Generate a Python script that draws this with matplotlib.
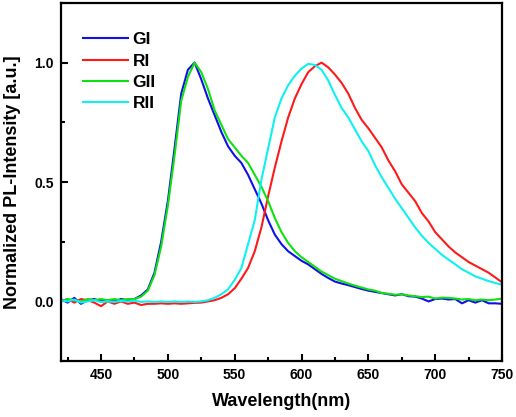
import numpy as np
import matplotlib
matplotlib.use('Agg')
from matplotlib import pyplot as plt
from matplotlib.ticker import MultipleLocator

plt.rcParams['font.family'] = 'Liberation Sans'
plt.rcParams['font.weight'] = 'bold'

# wavelength grid (nm)
wl = np.arange(420, 751, 5)

gi = [0.01, -0.005, 0.015, -0.01, 0.005, 0.01, 0.0, 0.005, 0.0, 0.01, 0.005, 0.01,
      0.025, 0.05, 0.12, 0.25, 0.42, 0.64, 0.87, 0.97, 1.0, 0.93, 0.85, 0.78,
      0.71, 0.65, 0.61, 0.58, 0.53, 0.47, 0.41, 0.34, 0.28, 0.24, 0.21, 0.19,
      0.17, 0.155, 0.135, 0.115, 0.098, 0.083, 0.075, 0.068, 0.06, 0.052, 0.045,
      0.04, 0.035, 0.03, 0.025, 0.03, 0.022, 0.02, 0.012, 0.0, 0.01, 0.012,
      0.008, 0.01, -0.008, 0.005, -0.005, 0.005, -0.008, -0.008, -0.01]

ri = [0.0, 0.01, -0.005, 0.01, 0.005, -0.005, -0.02, 0.0, -0.01, 0.0, -0.01,
      -0.005, -0.015, -0.01, -0.01, -0.008, -0.01, -0.008, -0.01, -0.008, -0.006,
      -0.005, 0.0, 0.005, 0.015, 0.03, 0.055, 0.095, 0.14, 0.21, 0.31, 0.44,
      0.56, 0.67, 0.77, 0.85, 0.91, 0.96, 0.985, 1.0, 0.98, 0.95, 0.915, 0.87,
      0.81, 0.76, 0.725, 0.685, 0.645, 0.59, 0.545, 0.49, 0.455, 0.42, 0.37,
      0.335, 0.29, 0.26, 0.23, 0.205, 0.185, 0.165, 0.15, 0.135, 0.12, 0.1, 0.08]

gii = [0.0, 0.01, 0.005, 0.0, 0.01, 0.005, 0.01, 0.005, 0.01, 0.005, 0.01, 0.01,
       0.02, 0.045, 0.11, 0.23, 0.40, 0.61, 0.84, 0.94, 1.0, 0.96, 0.89, 0.80,
       0.74, 0.68, 0.645, 0.61, 0.58, 0.53, 0.48, 0.42, 0.35, 0.29, 0.245, 0.21,
       0.185, 0.165, 0.145, 0.125, 0.11, 0.095, 0.085, 0.075, 0.066, 0.058, 0.05,
       0.045, 0.035, 0.032, 0.028, 0.03, 0.025, 0.022, 0.018, 0.02, 0.012, 0.016,
       0.015, 0.012, 0.008, 0.01, 0.005, 0.008, 0.005, 0.008, 0.012]

rii = [0.005, 0.0, 0.008, -0.005, 0.0, 0.005, -0.003, 0.0, -0.002, 0.002, 0.0,
       0.003, -0.002, 0.0, -0.002, 0.0, -0.002, 0.0, -0.002, 0.0, -0.002, 0.0,
       0.005, 0.015, 0.03, 0.05, 0.09, 0.14, 0.24, 0.34, 0.51, 0.64, 0.77, 0.85,
       0.905, 0.945, 0.975, 0.995, 0.99, 0.97, 0.925, 0.865, 0.81, 0.77, 0.72,
       0.67, 0.63, 0.57, 0.52, 0.475, 0.43, 0.39, 0.35, 0.31, 0.275, 0.245, 0.22,
       0.195, 0.175, 0.155, 0.135, 0.12, 0.105, 0.095, 0.085, 0.077, 0.07]

fig = plt.figure(figsize=(5.16, 4.17), dpi=100)
ax = fig.add_axes([0.118, 0.134, 0.855, 0.859])

ax.plot(wl, gi, color='#1010e8', lw=1.5, label='GI')
ax.plot(wl, ri, color='#ff1a1a', lw=1.5, label='RI')
ax.plot(wl, gii, color='#10e010', lw=1.5, label='GII')
ax.plot(wl, rii, color='#10f0f0', lw=1.5, label='RII')

ax.set_xlim(420, 750)
ax.set_ylim(-0.25, 1.25)
ax.xaxis.set_major_locator(MultipleLocator(50))
ax.xaxis.set_minor_locator(MultipleLocator(25))
ax.yaxis.set_major_locator(MultipleLocator(0.5))
ax.yaxis.set_minor_locator(MultipleLocator(0.25))
ax.tick_params(which='both', direction='in', width=1.5, labelsize=10,
               top=False, right=False)
ax.tick_params(which='major', length=5, pad=5)
ax.tick_params(which='minor', length=3)
for s in ax.spines.values():
    s.set_linewidth(1.6)

ax.set_xlabel('Wavelength(nm)', fontsize=13, fontweight='bold', labelpad=8)
ax.set_ylabel('Normalized PL-Intensity [a.u.]', fontsize=13, fontweight='bold', labelpad=10)

ax.legend(loc='upper left', bbox_to_anchor=(0.05, 0.918), frameon=False,
          fontsize=12.5, handlelength=2.6, handletextpad=0.25, labelspacing=0.35,
          borderpad=0, borderaxespad=0)

fig.savefig('out.png', dpi=100)
